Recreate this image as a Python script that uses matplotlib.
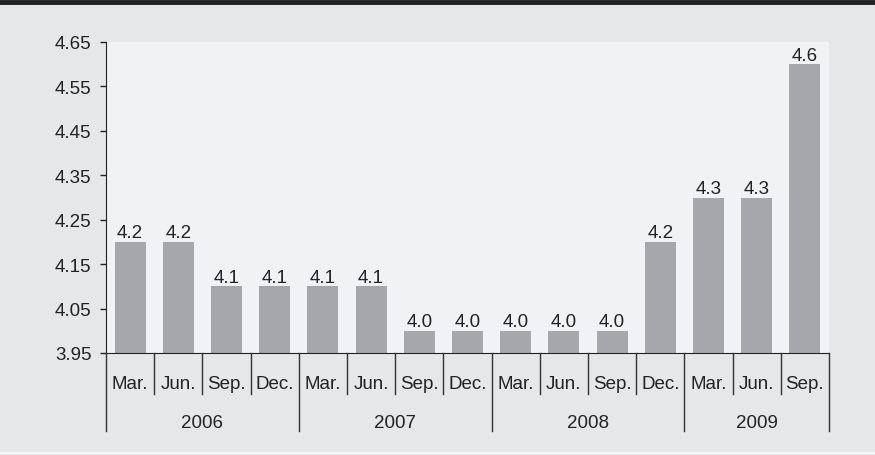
import matplotlib.pyplot as plt
from matplotlib.lines import Line2D

months = ["Mar.", "Jun.", "Sep.", "Dec.",
          "Mar.", "Jun.", "Sep.", "Dec.",
          "Mar.", "Jun.", "Sep.", "Dec.",
          "Mar.", "Jun.", "Sep."]
years = ["2006", "2007", "2008", "2009"]
year_counts = [4, 4, 4, 3]
values = [4.2, 4.2, 4.1, 4.1, 4.1, 4.1, 4.0, 4.0, 4.0, 4.0, 4.0, 4.2, 4.3, 4.3, 4.6]
yticks = [3.95, 4.05, 4.15, 4.25, 4.35, 4.45, 4.55, 4.65]

plt.rcParams['font.family'] = ['Liberation Sans', 'DejaVu Sans']

W, H = 875, 456
fig = plt.figure(figsize=(W / 100, H / 100), dpi=100, facecolor="#e6e7e9")
left, right, top, bottom = 106, 829, 43, 354
ax = fig.add_axes([left / W, 1 - bottom / H, (right - left) / W, (bottom - top) / H])
ax.set_facecolor("#f1f2f4")

x = list(range(len(values)))
ax.bar(x, values, width=0.64, color="#a6a7aa", zorder=2)
for xi, v in zip(x, values):
    ax.text(xi, v + 0.001, f"{v:.1f}", ha="center", va="bottom", fontsize=13.5, color="#222222")

ax.set_xlim(-0.5, len(values) - 0.5)
ax.set_ylim(3.95, 4.65)
ax.set_yticks(yticks)
ax.set_yticklabels([f"{t:.2f}" for t in yticks])
ax.tick_params(axis="y", labelsize=13.5, length=4, width=1, colors="#222222", pad=6.5)
ax.set_xticks([])
for s in ["top", "right"]:
    ax.spines[s].set_visible(False)
ax.spines["left"].set_color("#222222")
ax.spines["bottom"].set_color("#222222")

# two level category axis, drawn in figure coordinates
n = len(values)
slot = (right - left) / n
fig_y_month = 1 - 385 / H
fig_y_year = 1 - 423 / H
for xi, m in zip(x, months):
    fx = (left + (xi + 0.5) * slot) / W
    fig.text(fx, fig_y_month, m, ha="center", va="center", fontsize=13.5, color="#222222")

boundaries = [0]
for c in year_counts:
    boundaries.append(boundaries[-1] + c)
for i in range(n + 1):
    fx = (left + i * slot) / W
    y_end = 432 if i in boundaries else 395
    fig.add_artist(Line2D([fx, fx], [1 - bottom / H, 1 - y_end / H], color="#333333", lw=1))
for yr, a, b in zip(years, boundaries[:-1], boundaries[1:]):
    fx = (left + (a + b) / 2 * slot) / W
    fig.text(fx, fig_y_year, yr, ha="center", va="center", fontsize=13.5, color="#222222")

# frame lines
fig.add_artist(Line2D([0, 1], [1 - 2.5 / H, 1 - 2.5 / H], color="#222222", lw=3.5))
fig.add_artist(Line2D([0, 1], [1 - 454 / H, 1 - 454 / H], color="#f6f6f7", lw=1.5))

fig.savefig("out.png", dpi=100, facecolor=fig.get_facecolor())
